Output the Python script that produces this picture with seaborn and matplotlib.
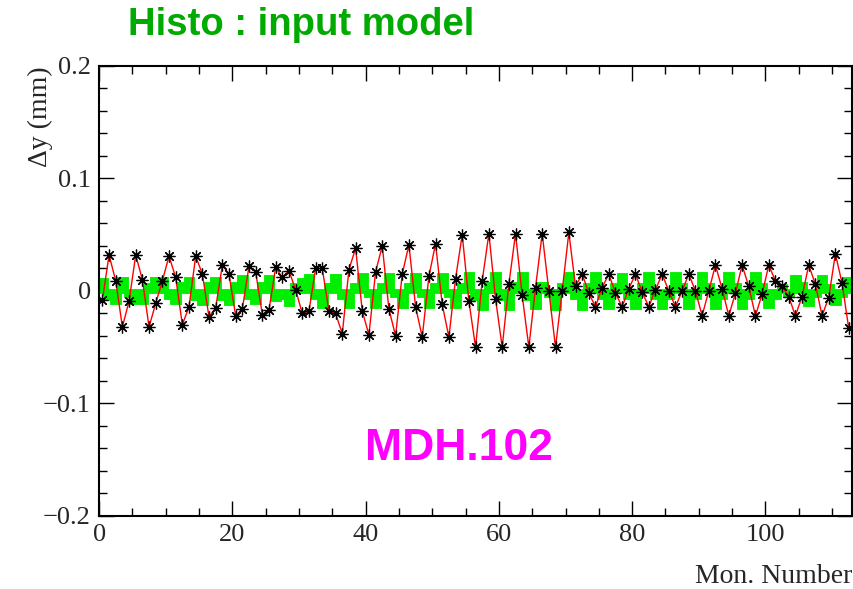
import numpy as np
import pandas as pd
import seaborn as sns
import matplotlib.pyplot as plt
from matplotlib.ticker import MultipleLocator

# measured residuals per monitor (red, with markers)
meas = [
    -0.008, 0.032, 0.009, -0.032, -0.009, 0.032, 0.010, -0.032, -0.011, 0.009,
    0.031, 0.012, -0.030, -0.014, 0.031, 0.015, -0.023, -0.015, 0.023, 0.015,
    -0.022, -0.016, 0.022, 0.017, -0.021, -0.017, 0.021, 0.012, 0.018, 0.001,
    -0.020, -0.018, 0.020, 0.020, -0.018, -0.020, -0.038, 0.019, 0.038, -0.018,
    -0.039, 0.017, 0.040, -0.016, -0.040, 0.015, 0.041, -0.014, -0.041, 0.013,
    0.042, -0.012, -0.041, 0.011, 0.050, -0.009, -0.050, 0.009, 0.051, -0.007,
    -0.050, 0.006, 0.051, -0.004, -0.050, 0.003, 0.051, 0.000, -0.050, 0.000,
    0.052, 0.004, 0.015, -0.002, -0.014, 0.003, 0.015, -0.002, -0.014, 0.002,
    0.015, -0.001, -0.014, 0.001, 0.015, 0.000, -0.014, 0.000, 0.015, 0.000,
    -0.022, 0.000, 0.023, 0.002, -0.022, -0.002, 0.023, 0.004, -0.022, -0.003,
    0.023, 0.009, 0.004, -0.005, -0.022, -0.005, 0.023, 0.006, -0.022, -0.006,
    0.033, 0.007, -0.033]

# input model histogram (green)
model = [
    0.010, -0.006, -0.010, 0.011, -0.004, -0.010, -0.010, 0.005, 0.011, 0.011,
    -0.005, -0.010, 0.006, 0.011, -0.006, -0.011, 0.006, 0.011, -0.006, -0.011,
    0.006, 0.012, -0.005, -0.010, 0.006, 0.012, -0.007, -0.005, -0.012, 0.005,
    0.010, 0.013, -0.005, -0.013, 0.005, 0.013, -0.005, -0.013, 0.005, 0.014,
    -0.004, -0.013, 0.005, 0.014, -0.004, -0.013, 0.005, 0.014, -0.004, -0.013,
    0.005, 0.014, -0.004, -0.013, 0.005, 0.015, -0.006, -0.015, 0.006, 0.015,
    -0.006, -0.015, 0.006, 0.015, -0.006, -0.014, 0.006, -0.004, -0.015, 0.005,
    0.015, -0.005, -0.015, 0.005, 0.015, -0.005, -0.014, 0.005, 0.014, -0.005,
    -0.014, 0.005, 0.015, -0.005, -0.014, -0.005, 0.015, 0.005, -0.014, -0.005,
    0.015, 0.005, -0.014, -0.005, 0.015, 0.005, -0.014, -0.005, 0.015, 0.005,
    -0.013, -0.005, 0.004, -0.004, 0.012, 0.006, -0.012, -0.004, 0.012, 0.004,
    -0.011, -0.004, 0.011]

ytick_vals = [-0.2, -0.1, 0, 0.1, 0.2]
ytick_text = ['\u22120.2', '\u22120.1', '0', '0.1', '0.2']

nbins = len(meas)
mon = np.arange(nbins) + 0.5
df = pd.DataFrame({'mon': mon, 'meas': meas, 'model': model})

sns.set_style('ticks')
plt.rcParams['font.family'] = ['Liberation Serif', 'DejaVu Serif']

fig = plt.figure(figsize=(8.54, 5.89), dpi=100)
ax = fig.add_axes([0.116, 0.124, 0.8817, 0.764])

green = '#00ee00'
sns.histplot(data=df, x='mon', weights='model', bins=nbins, binrange=(0, nbins),
             element='step', fill=True, color=green, alpha=1, linewidth=3.5,
             edgecolor=green, joinstyle='miter', ax=ax)

sns.lineplot(data=df, x='mon', y='meas', color='red', linewidth=1,
             marker=(8, 2, 0), markersize=8.5, markeredgecolor='black',
             markeredgewidth=0.9, ax=ax)

ax.set_xlim(0, 113)
ax.set_ylim(-0.2, 0.2)
ax.xaxis.set_major_locator(MultipleLocator(20))
ax.xaxis.set_minor_locator(MultipleLocator(5))
ax.yaxis.set_minor_locator(MultipleLocator(0.02))
ax.set_yticks(ytick_vals)
ax.set_yticklabels(ytick_text)
ax.tick_params(which='both', direction='in', top=True, right=True,
               labelsize=19, width=1, color='black', pad=6)
ax.tick_params(which='major', length=11)
ax.tick_params(which='minor', length=6)
for s in ax.spines.values():
    s.set_linewidth(1.5)
    s.set_color('black')

ax.set_xlabel('')
ax.set_ylabel('')
fig.text(0.9977, 0.022, 'Mon. Number', ha='right', va='center', fontsize=20)
fig.text(0.047, 0.888, '\u0394y (mm)', ha='center', va='top', rotation=90, fontsize=20)
fig.text(0.150, 0.958, 'Histo : input model', ha='left', va='center',
         fontsize=27.5, fontweight='bold', color='#00aa00', family='Liberation Sans')
ax.text(54.0, -0.14, 'MDH.102', ha='center', va='center', fontsize=32,
        fontweight='bold', color='#ff00ff', family='Liberation Sans')

fig.savefig('out.png', dpi=100)
